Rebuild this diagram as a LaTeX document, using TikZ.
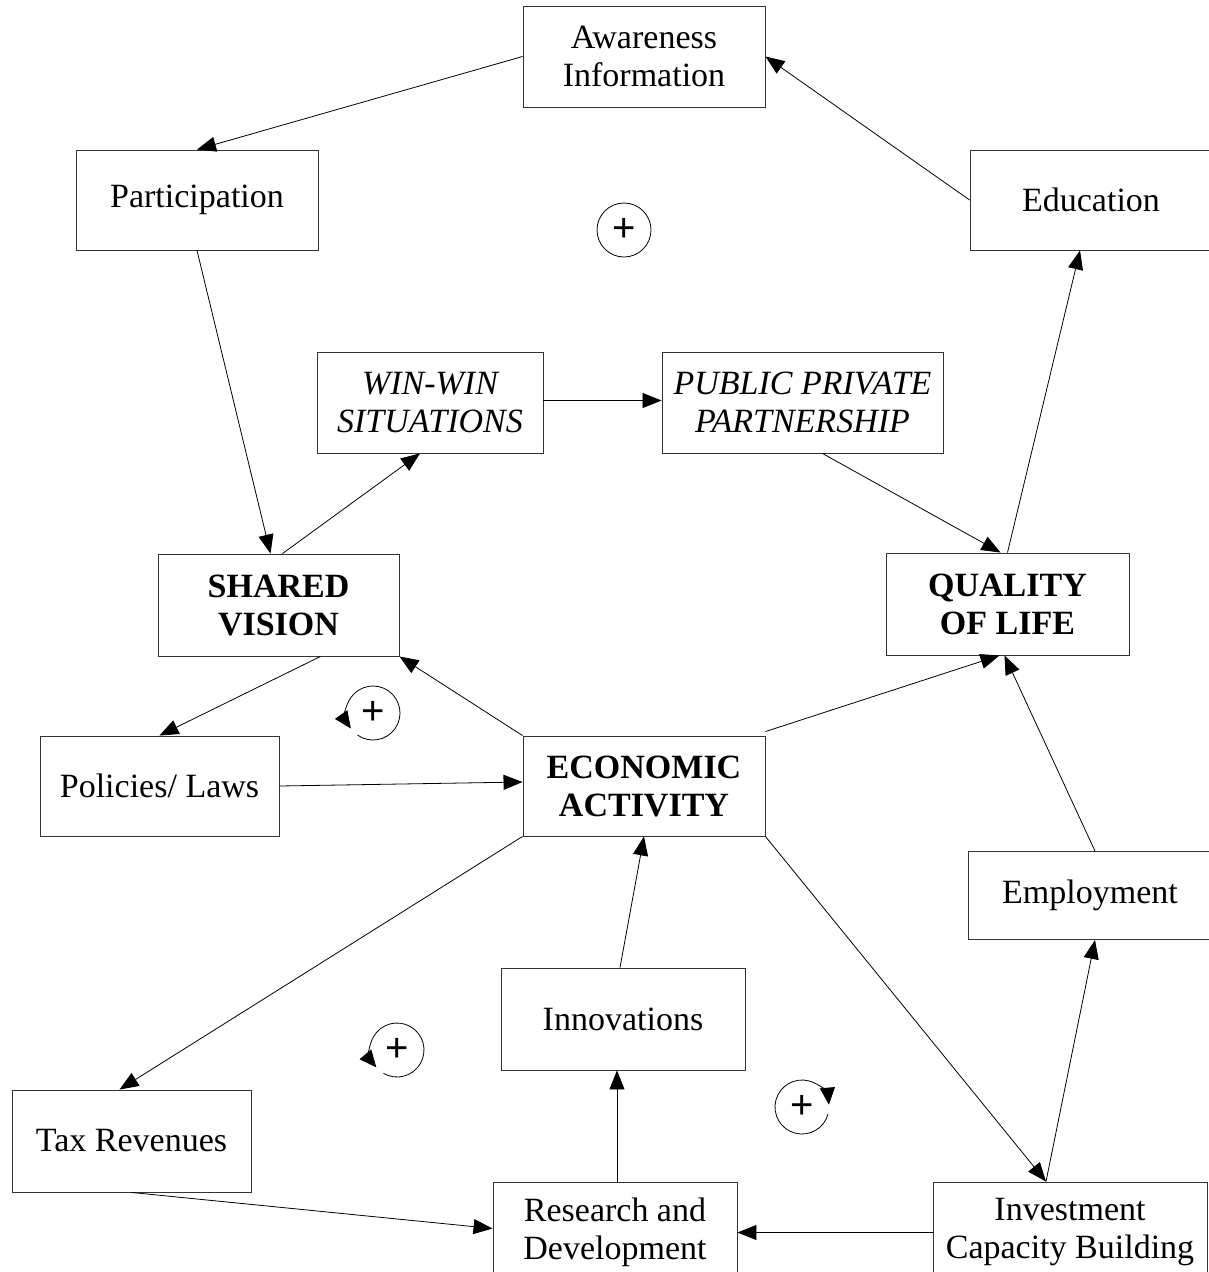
\documentclass[tikz,border=0pt]{standalone}
\usepackage{fontspec}
\setmainfont{Liberation Serif}
\newfontfamily\plusfont{Liberation Sans}
\usetikzlibrary{arrows.meta}
\begin{document}
\begin{tikzpicture}[x=1pt,y=-1pt,
  box/.style={draw=black!80, line width=0.9pt, rectangle, align=center, inner sep=0pt,
    font=\fontsize{34}{38}\selectfont},
  boldbox/.style={box, font=\fontsize{34}{38}\selectfont\bfseries},
  itbox/.style={box, font=\fontsize{34}{38}\selectfont\itshape},
  arr/.style={line width=0.8pt, -{Triangle[length=19pt,width=15pt]}},
  loopc/.style={line width=0.8pt},
  loopa/.style={line width=0.8pt, -{Triangle[length=17pt,width=15pt]}},
  plus/.style={font=\plusfont\fontsize{40}{40}\selectfont, inner sep=0pt}
]
\fill[white] (0,0) rectangle (1209,1272);
\clip (0,0) rectangle (1209,1272);

% boxes
\node[box, minimum width=242pt, minimum height=101pt] (aw) at (644,56.5) {Awareness\\Information};
\node[box, minimum width=242pt, minimum height=100pt] (part) at (197,200) {Participation};
\node[box, minimum width=242pt, minimum height=100pt] (edu) at (1091,200) {Education};
\node[itbox, minimum width=226pt, minimum height=101pt] (win) at (430,402.5) {WIN-WIN\\SITUATIONS};
\node[itbox, minimum width=281pt, minimum height=101pt] (ppp) at (802.5,402.5) {PUBLIC PRIVATE\\PARTNERSHIP};
\node[boldbox, minimum width=241pt, minimum height=102pt] (sv) at (278.5,605) {SHARED\\VISION};
\node[boldbox, minimum width=243pt, minimum height=102pt] (qol) at (1007.5,604) {QUALITY\\OF LIFE};
\node[box, minimum width=239pt, minimum height=100pt] (pol) at (159.5,786) {Policies/ Laws};
\node[boldbox, minimum width=242pt, minimum height=100pt] (eco) at (644,786) {ECONOMIC\\ACTIVITY};
\node[box, minimum width=244pt, minimum height=88pt] (emp) at (1090,895.5) {Employment};
\node[box, minimum width=244pt, minimum height=102pt] (inn) at (623,1019) {Innovations};
\node[box, minimum width=239pt, minimum height=102pt] (tax) at (131.5,1141) {Tax Revenues};
\node[box, minimum width=244pt, minimum height=101pt] (rd) at (615,1232.5) {Research and\\Development};
\node[box, minimum width=274pt, minimum height=101pt] (inv) at (1070,1232.5) {Investment\\Capacity Building};

% connectors
\draw[arr] (aw.west) -- (part.north);
\draw[arr] (edu.west) -- (aw.east);
\draw[arr] (part.south) -- ([xshift=-8pt]sv.north);
\draw[arr] ([xshift=4pt]sv.north) -- ([xshift=-10pt]win.south);
\draw[arr] ([yshift=2pt]win.east) -- ([yshift=2pt]ppp.west);
\draw[arr] ([xshift=20pt]ppp.south) -- ([xshift=-7pt]qol.north);
\draw[arr] (qol.north) -- ([xshift=-11pt]edu.south);
\draw[arr] (eco.north west) -- (sv.south east);
\draw[arr] ([xshift=42pt]sv.south) -- (pol.north);
\draw[arr] (pol.east) -- ([yshift=4pt]eco.west);
\draw[arr] ([yshift=4pt]eco.north east) -- ([xshift=-8pt]qol.south);
\draw[arr] ([xshift=5pt]emp.north) -- ([xshift=-3pt]qol.south);
\draw[arr] ([xshift=-24pt]inv.north) -- ([xshift=5pt]emp.south);
\draw[arr] (eco.south east) -- ([xshift=-24pt]inv.north);
\draw[arr] (eco.south west) -- ([xshift=-12pt]tax.north);
\draw[arr] (tax.south) -- ([yshift=4pt]rd.west);
\draw[arr] (inv.west) -- (rd.east);
\draw[arr] ([xshift=2pt]rd.north) -- ([xshift=2pt]rd.north |- inn.south);
\draw[arr] ([xshift=-3pt]inn.north) -- (eco.south);

% loop markers
\node[plus] (p1) at (624,230) {+};
\draw[loopc] (p1) circle[radius=27];
\node[plus] (p2) at (373,713) {+};
\draw[loopa] (p2) ++(125:27) arc[start angle=125, delta angle=-340, radius=27];
\node[plus] (p3) at (397,1050) {+};
\draw[loopa] (p3) ++(120:27) arc[start angle=120, delta angle=-340, radius=27];
\node[plus] (p4) at (802,1107) {+};
\draw[loopa] (p4) ++(15:27) arc[start angle=15, delta angle=340, radius=27];
\end{tikzpicture}
\end{document}
